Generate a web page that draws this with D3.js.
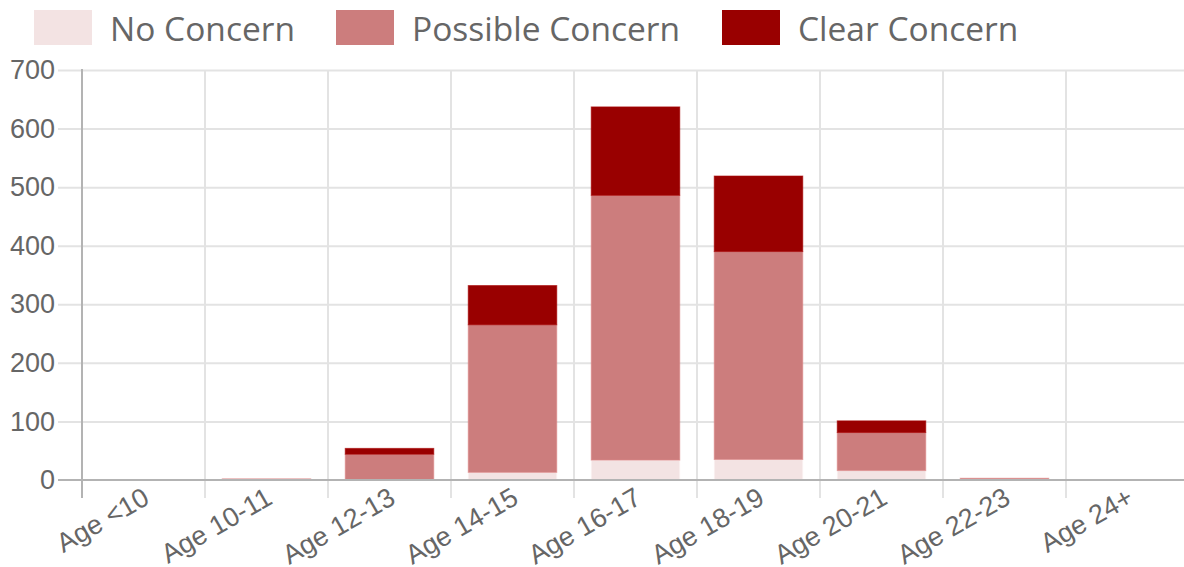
<!DOCTYPE html>
<html>
<head>
<meta charset="utf-8">
<script src="https://cdn.jsdelivr.net/npm/d3@7"></script>
<style>
  html,body{margin:0;padding:0;background:#fff;}
  svg{display:block;}
</style>
</head>
<body>
<svg id="chart" width="1184" height="567"></svg>
<script>
// ===== Data =====
const categories = ['Age <10','Age 10-11','Age 12-13','Age 14-15','Age 16-17','Age 18-19','Age 20-21','Age 22-23','Age 24+'];
const seriesNames = ['No Concern','Possible Concern','Clear Concern'];
const noConcern       = [0, 0, 1, 13, 34, 35, 16, 1, 0];
const possibleConcern = [0, 2, 43, 252, 452, 355, 65, 2, 0];
const clearConcern    = [0, 0, 10, 67, 151, 129, 20, 0, 0];
const yTicks = [0,100,200,300,400,500,600,700];
const colors = ['#f3e3e3','#cc7d7d','#990000'];

const svg = d3.select('#chart');
const W = 1184, H = 567;
const M = {top:70, left:82, bottom:87};
const plotBottom = H - M.bottom; // y of zero line (480)

const rows = categories.map((c,i)=>({cat:c, 'No Concern':noConcern[i], 'Possible Concern':possibleConcern[i], 'Clear Concern':clearConcern[i]}));
const stacked = d3.stack().keys(seriesNames)(rows);

const step = 123;
const x = d3.scaleBand().domain(categories)
  .range([M.left, M.left + step*categories.length])
  .paddingInner(0.28).paddingOuter(0.14);
const y = d3.scaleLinear().domain([0,700]).range([plotBottom, M.top]);

// horizontal grid
const gGrid = svg.append('g');
gGrid.selectAll('line.h').data(yTicks.filter(d=>d>0)).join('line')
  .attr('x1', M.left-24).attr('x2', W)
  .attr('y1', d=>y(d)+0.5).attr('y2', d=>y(d)+0.5)
  .attr('stroke','#e3e3e3').attr('stroke-width',2);

// vertical grid at category boundaries
const bounds = categories.map(c=>x(c) - x.step()*0.14).slice(1);
gGrid.selectAll('line.v').data(bounds).join('line')
  .attr('x1', d=>Math.round(d)).attr('x2', d=>Math.round(d))
  .attr('y1', M.top).attr('y2', plotBottom+18)
  .attr('stroke','#e3e3e3').attr('stroke-width',2);

// bars
const gBars = svg.append('g');
stacked.forEach((layer,li)=>{
  gBars.append('g').selectAll('rect').data(layer).join('rect')
    .attr('x', d=>x(d.data.cat))
    .attr('width', x.bandwidth())
    .attr('y', d=>y(d[1]))
    .attr('height', d=>Math.max(0, y(d[0]) - y(d[1])))
    .attr('fill', colors[li])
    .attr('stroke', d3.color(colors[li]).brighter(0.25))
    .attr('stroke-opacity', 0.6)
    .attr('stroke-width', d=> (d[1]-d[0])>0 ? 1 : 0);
});

// axes
const gAxes = svg.append('g');
// y axis line
gAxes.append('line')
  .attr('x1', M.left).attr('x2', M.left)
  .attr('y1', M.top-1).attr('y2', plotBottom+18)
  .attr('stroke','#b3b3b3').attr('stroke-width',2);
// zero line
gAxes.append('line')
  .attr('x1', M.left-24).attr('x2', W)
  .attr('y1', plotBottom).attr('y2', plotBottom)
  .attr('stroke','#b3b3b3').attr('stroke-width',2);

const yAxis = d3.axisLeft(y).tickValues(yTicks).tickSize(0).tickPadding(27);
gAxes.append('g').attr('transform', `translate(${M.left},0)`).call(yAxis)
  .call(g=>g.select('.domain').remove())
  .call(g=>g.selectAll('text')
    .attr('fill','#666').style('font-family','"Liberation Sans", Arial, sans-serif').style('font-size','27px'));

// x labels
gAxes.append('g').selectAll('text').data(categories).join('text')
  .attr('transform', d=>`translate(${x(d)+x.bandwidth()/2-2},${plotBottom+6}) rotate(-30)`)
  .attr('text-anchor','end')
  .attr('dominant-baseline','hanging')
  .attr('fill','#666')
  .style('font-family','"Liberation Sans", Arial, sans-serif')
  .style('font-size','27px')
  .text(d=>d);

// legend
const legendX = [34, 336, 722];
const gLeg = svg.append('g');
seriesNames.forEach((s,i)=>{
  gLeg.append('rect').attr('x', legendX[i]).attr('y', 10).attr('width', 58).attr('height', 35)
    .attr('fill', colors[i]);
  gLeg.append('text').attr('x', legendX[i]+76).attr('y', 27.5)
    .attr('dominant-baseline','central')
    .attr('fill','#666')
    .style('font-family','"Open Sans", sans-serif')
    .style('font-size','33.5px')
    .text(s);
});
</script>
</body>
</html>
